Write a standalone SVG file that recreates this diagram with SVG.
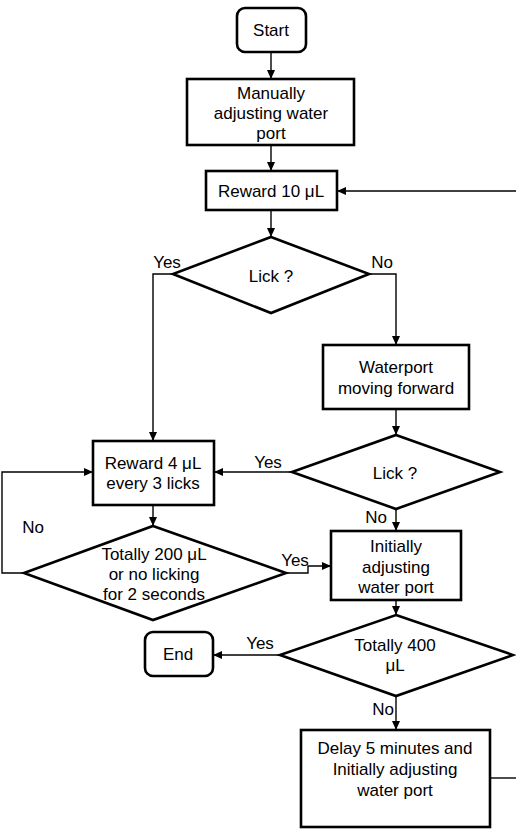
<svg xmlns="http://www.w3.org/2000/svg" width="516" height="829" viewBox="0 0 516 829">
<style>
.n{fill:#fff;stroke:#000;stroke-width:2.6}
.c{fill:none;stroke:#000;stroke-width:1.4}
text{font-family:"Liberation Sans",Arial,sans-serif;font-size:17px;fill:#000;text-anchor:middle}
.l{text-anchor:start}
</style>
<defs>
<marker id="a" markerUnits="userSpaceOnUse" markerWidth="9" markerHeight="8" refX="9" refY="4" orient="auto">
<path d="M0,0 L9,4 L0,8 Z" fill="#000"/>
</marker>
</defs>
<rect width="516" height="829" fill="#fff"/>
<g id="connectors">
<path class="c" d="M271,52 V79" marker-end="url(#a)"/>
<path class="c" d="M271,145 V171" marker-end="url(#a)"/>
<path class="c" d="M516,191 H337" marker-end="url(#a)"/>
<path class="c" d="M271,210 V237" marker-end="url(#a)"/>
<path class="c" d="M173,274 H153 V441" marker-end="url(#a)"/>
<path class="c" d="M369,274 H396 V345" marker-end="url(#a)"/>
<path class="c" d="M396,409 V435" marker-end="url(#a)"/>
<path class="c" d="M292,472 H214" marker-end="url(#a)"/>
<path class="c" d="M153,505 V526" marker-end="url(#a)"/>
<path class="c" d="M24,573 H2 V472 H93" marker-end="url(#a)"/>
<path class="c" d="M286,573 H308 V566 H331" marker-end="url(#a)"/>
<path class="c" d="M396,509 V531" marker-end="url(#a)"/>
<path class="c" d="M396,600 V615" marker-end="url(#a)"/>
<path class="c" d="M280,655 H213" marker-end="url(#a)"/>
<path class="c" d="M396,696 V730" marker-end="url(#a)"/>
<path class="c" d="M490,778 H516"/>
<text x="167" y="268">Yes</text>
<text x="382" y="268">No</text>
<text x="268" y="468">Yes</text>
<text x="33" y="533">No</text>
<text x="295" y="566">Yes</text>
<text x="376" y="523">No</text>
<text x="260" y="649">Yes</text>
<text x="383" y="715">No</text>
</g>
<g id="start">
<rect class="n" x="237" y="8" width="69" height="44" rx="8"/>
<text x="271" y="36">Start</text>
</g>
<g id="manual">
<rect class="n" x="187" y="79" width="167" height="66"/>
<text x="271" y="99">Manually</text>
<text x="271" y="119">adjusting water</text>
<text x="271" y="139">port</text>
</g>
<g id="reward10">
<rect class="n" x="206" y="171" width="131" height="39"/>
<text x="271" y="197">Reward 10 μL</text>
</g>
<g id="lick1">
<polygon class="n" points="271,237 369,274 271,313 173,274"/>
<text x="271" y="282">Lick ?</text>
</g>
<g id="waterport">
<rect class="n" x="323" y="345" width="146" height="64"/>
<text x="396" y="373">Waterport</text>
<text x="396" y="394">moving forward</text>
</g>
<g id="lick2">
<polygon class="n" points="396,435 500,472 396,509 292,472"/>
<text x="395" y="479">Lick ?</text>
</g>
<g id="reward4">
<rect class="n" x="93" y="441" width="121" height="64"/>
<text x="153" y="469">Reward 4 μL</text>
<text x="153" y="489">every 3 licks</text>
</g>
<g id="total200">
<polygon class="n" points="153,526 286,573 153,620 24,573"/>
<text x="154" y="560">Totally 200 μL</text>
<text x="154" y="580">or no licking</text>
<text x="154" y="600">for 2 seconds</text>
</g>
<g id="initial">
<rect class="n" x="331" y="531" width="130" height="69"/>
<text x="396" y="552">Initially</text>
<text x="396" y="573">adjusting</text>
<text x="396" y="593">water port</text>
</g>
<g id="total400">
<polygon class="n" points="396,615 513,655 396,696 280,655"/>
<text x="395" y="651">Totally 400</text>
<text x="395" y="671">μL</text>
</g>
<g id="end">
<rect class="n" x="145" y="632" width="68" height="44" rx="8"/>
<text x="178" y="660">End</text>
</g>
<g id="delay">
<rect class="n" x="301" y="730" width="189" height="97"/>
<text x="395" y="754">Delay 5 minutes and</text>
<text x="395" y="775">Initially adjusting</text>
<text x="395" y="796">water port</text>
</g>
</svg>
